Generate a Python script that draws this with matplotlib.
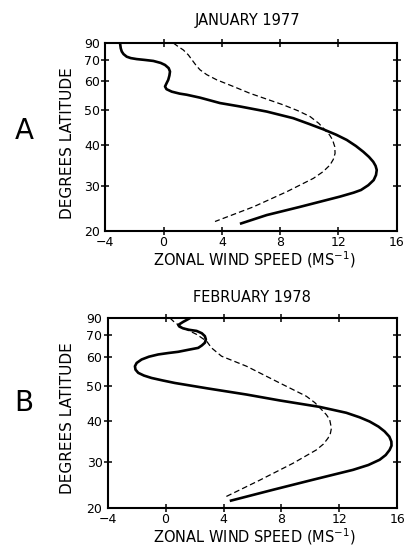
import numpy as np
import matplotlib
matplotlib.use("Agg")
import matplotlib.pyplot as plt
from matplotlib.ticker import FixedLocator, NullLocator

plt.rcParams['font.family'] = ['DejaVu Sans']
plt.rcParams['mathtext.default'] = 'regular'

# ---------------- data ----------------
# Panel A: January 1977
a_solid_lat = [90, 79, 76, 74, 72.2, 71.3, 70.7, 70.2, 69.6, 68.5, 67.4, 65.8, 64.2, 62.4, 60.6,
               59.2, 58.0, 57.0, 56.1, 55.4, 55.0, 54.0, 52.2, 51.1, 49.5, 47.5, 45.8, 44.3,
               42.8, 41.4, 39.8, 38.3, 37.0, 35.8, 34.8, 33.8, 32.6, 31.4, 30.2, 29.1, 28.5,
               27.6, 26.5, 25.3, 23.5, 21.6]
a_solid_u = [-2.99, -2.94, -2.87, -2.75, -2.53, -2.25, -1.85, -1.3, -0.7, -0.2, 0.1, 0.35, 0.44,
             0.4, 0.32, 0.2, 0.1, 0.2, 0.56, 1.1, 1.59, 2.5, 3.87, 5.24, 7.08, 8.9, 10.0, 10.96,
             11.85, 12.57, 13.2, 13.71, 14.1, 14.39, 14.55, 14.63, 14.58, 14.42, 14.05, 13.55,
             13.05, 12.11, 10.8, 9.36, 7.08, 5.24]
a_dash_lat = [90, 80.8, 77.4, 73.4, 69.2, 67, 65, 62.8, 60.6, 58, 55.5, 51.6, 49.8, 48.0, 46,
              44.1, 42.7, 41.4, 39.6, 37.9, 36.4, 35.0, 33.4, 31.8, 28.7, 25.3, 22.1]
a_dash_u = [0.67, 1.01, 1.35, 1.7, 2.04, 2.25, 2.5, 2.96, 3.65, 4.79, 5.93, 8.22, 9.2, 10.05,
            10.65, 11.08, 11.4, 11.6, 11.75, 11.77, 11.65, 11.42, 10.95, 10.28, 8.45, 6.16, 3.53]

# Panel B: February 1978
b_solid_lat = [90, 80.5, 77.4, 76, 74.6, 73.6, 72.8, 71.3, 69.6, 67.8, 66.1, 64.8, 63.7, 62.9,
               62.0, 61.5, 60.9, 60.0, 58.9, 57.6, 56.4, 55.2, 54.1, 53.2, 52.4, 51.6, 50.8,
               49.1, 47.3, 45.6, 43.8, 42.2, 41.0, 39.9, 38.6, 37.4, 36.1, 34.9, 33.9, 32.9,
               31.7, 30.6, 29.4, 28.3, 26.1, 23.9, 21.5]
b_solid_u = [1.7, 1.2, 0.87, 0.95, 1.21, 1.6, 2.14, 2.5, 2.71, 2.78, 2.71, 2.5, 2.25, 1.6,
             0.87, 0.2, -0.51, -1.15, -1.66, -2.0, -2.12, -2.08, -1.89, -1.5, -0.97, -0.2, 0.64,
             2.94, 5.59, 7.88, 10.64, 12.48, 13.4, 14.09, 14.7, 15.12, 15.45, 15.59, 15.6, 15.47,
             15.2, 14.78, 14.0, 12.94, 10.18, 7.42, 4.43]
b_dash_lat = [90, 79.7, 75.0, 70.6, 66.9, 63.7, 60.2, 56.4, 50.8, 46.8, 45.0, 43.1, 41.7, 40.4,
              38.2, 36.9, 35.7, 34.3, 32.9, 29.8, 26.0, 22.3]
b_dash_u = [0.3, 0.64, 1.21, 2.14, 2.83, 3.17, 3.86, 5.59, 7.88, 9.72, 10.3, 10.76, 11.1, 11.33,
            11.45, 11.38, 11.21, 10.9, 10.41, 8.8, 6.5, 4.09]

titles = ["JANUARY 1977", "FEBRUARY 1978"]
panel_letters = ["A", "B"]
x_ticks = [-4, 0, 4, 8, 12, 16]
y_ticks = [20, 30, 40, 50, 60, 70, 90]
y_tick_marks = [30, 40, 50, 60, 70]
x_tick_marks = [0, 4, 8, 12]

W, H = 404, 550
fig = plt.figure(figsize=(W / 100, H / 100), dpi=100)


def fx(px):
    return px / W


def fy(py):
    return 1 - py / H


def fwd(y):
    return np.sin(np.deg2rad(np.clip(y, -90, 90)))


def inv(s):
    return np.rad2deg(np.arcsin(np.clip(s, -1, 1)))


panels = [
    dict(box=(105.3, 43, 396.7, 231.3), solid=(a_solid_u, a_solid_lat), dash=(a_dash_u, a_dash_lat),
         title_y=20.5, title_x=248, letter_y=131, xlabel_y=259.5, ylabel_y=143),
    dict(box=(107.7, 318, 397.3, 508), solid=(b_solid_u, b_solid_lat), dash=(b_dash_u, b_dash_lat),
         title_y=298, title_x=252, letter_y=403, xlabel_y=536.5, ylabel_y=418),
]

for i, p in enumerate(panels):
    l, t, r, b = p['box']
    ax = fig.add_axes([fx(l), fy(b), fx(r - l), (b - t) / H])
    ax.set_yscale('function', functions=(fwd, inv))
    ax.plot(p['solid'][0], p['solid'][1], color='black', lw=1.9,
            solid_joinstyle='round', solid_capstyle='butt')
    ax.plot(p['dash'][0], p['dash'][1], color='black', lw=0.9, dashes=(4.5, 2.5),
            dash_joinstyle='round')
    ax.set_xlim(-4, 16)
    ax.set_ylim(20, 90)
    for s in ax.spines.values():
        s.set_linewidth(1.5)
    ax.xaxis.set_major_locator(FixedLocator(x_ticks))
    ax.set_xticklabels([("\u2212" if v < 0 else "") + str(abs(v)) for v in x_ticks])
    ax.yaxis.set_major_locator(FixedLocator(y_ticks))
    ax.set_yticklabels([str(v) for v in y_ticks])
    ax.yaxis.set_minor_locator(NullLocator())
    ax.xaxis.set_minor_locator(NullLocator())
    ax.tick_params(axis='both', which='major', labelsize=9, direction='inout', length=5.5,
                   width=1.1, top=True, right=True, pad=1)
    ax.tick_params(axis='x', pad=0.5)
    for tk, v in zip(ax.xaxis.get_major_ticks(), x_ticks):
        if v not in x_tick_marks:
            tk.tick1line.set_visible(False)
            tk.tick2line.set_visible(False)
    for tk, v in zip(ax.yaxis.get_major_ticks(), y_ticks):
        if v not in y_tick_marks:
            tk.tick1line.set_visible(False)
            tk.tick2line.set_visible(False)

    fig.text(fx(p['title_x']), fy(p['title_y']), titles[i], ha='center', va='center', fontsize=10.5)
    fig.text(fx(24), fy(p['letter_y']), panel_letters[i], ha='center', va='center', fontsize=20)
    fig.text(fx(254), fy(p['xlabel_y']), "ZONAL WIND SPEED (MS$^{-1}$)", ha='center', va='center',
             fontsize=10.5)
    fig.text(fx(67), fy(p['ylabel_y']), "DEGREES LATITUDE", ha='center', va='center', fontsize=11,
             rotation=90)

fig.savefig("out.png", dpi=100)
